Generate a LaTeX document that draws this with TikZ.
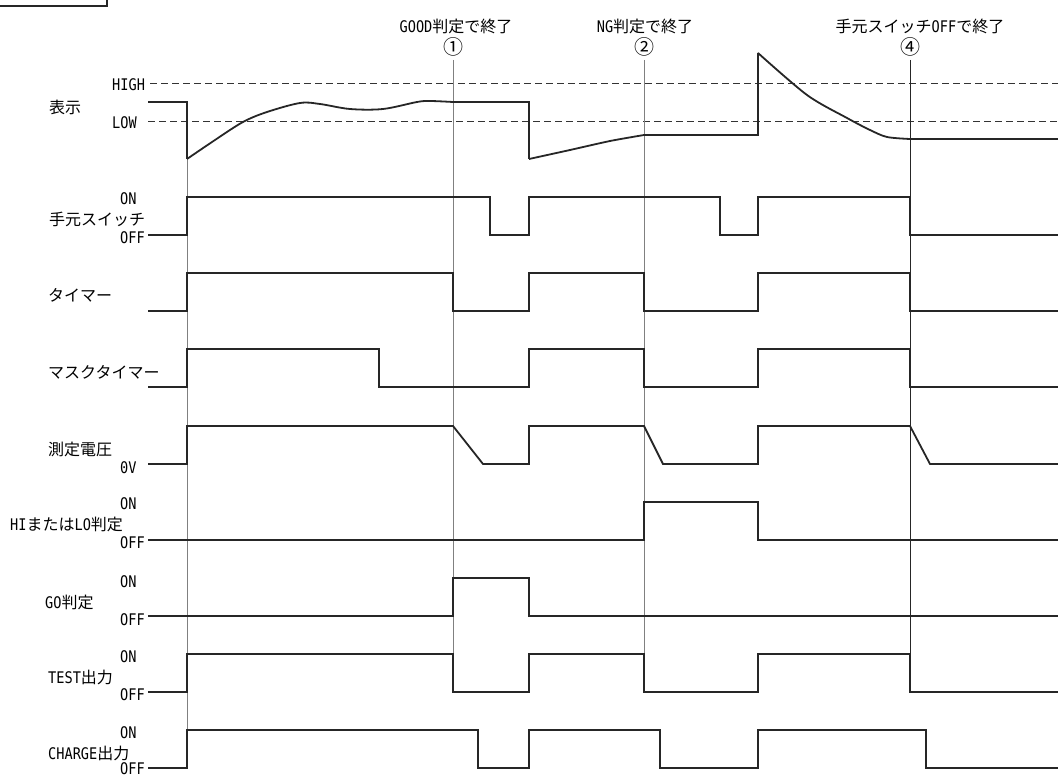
\documentclass[tikz,border=0pt]{standalone}
\usepackage{fontspec}
\usepackage{tikz}
\newfontfamily\jp{Noto Sans CJK JP}
\newfontfamily\lat{DejaVu Sans Mono}[FakeStretch=0.85]

\begin{document}
\begin{tikzpicture}[x=1pt, y=-1pt,
			 senal/.style={line width=1.8pt, black!85},
			 marca/.style={line width=0.8pt, black!50},
			 umbral/.style={line width=0.8pt, black!80, dash pattern=on 7pt off 4pt},
			 rotulo/.style={font=\jp\fontsize{16}{18}\selectfont, inner sep=0pt, anchor=west},
			 nivel/.style={font=\lat\fontsize{16}{18}\selectfont, inner sep=0pt, anchor=west},
			 titulo/.style={font=\jp\fontsize{16}{18}\selectfont, inner sep=0pt},
			 numero/.style={font=\jp\fontsize{20}{22}\selectfont, inner sep=0pt}
  		]
	\useasboundingbox (0,0) rectangle (1058,778);

	%Recuadro de arriba
		\draw[line width=1.5pt, black!85] (-5,-5) rectangle (107,6);

	%Titulos de los instantes
		\node[titulo] (t1) at (456,26) {{\lat GOOD}判定で終了};
		\node[numero] (n1) at (453,47) {①};
		\node[titulo] (t2) at (645,26) {{\lat NG}判定で終了};
		\node[numero] (n2) at (644,47) {②};
		\node[titulo] (t4) at (920,26) {手元スイッチ{\lat OFF}で終了};
		\node[numero] (n4) at (910,47) {④};

	%Nombres de las senales
		\node[rotulo] (s0) at (49,107) {表示};
		\node[rotulo] (s1) at (49,219) {手元スイッチ};
		\node[rotulo] (s2) at (48,295) {タイマー};
		\node[rotulo] (s3) at (48,372) {マスクタイマー};
		\node[rotulo] (s4) at (48,449) {測定電圧};
		\node[rotulo] (s5) at (10,524) {{\lat HI}または{\lat LO}判定};
		\node[rotulo] (s6) at (45,602) {{\lat GO}判定};
		\node[rotulo] (s7) at (48,677) {{\lat TEST}出力};
		\node[rotulo] (s8) at (48,753) {{\lat CHARGE}出力};

	%Niveles
		\node[nivel] (hi) at (112,85) {HIGH};
		\node[nivel] (lo) at (112,123) {LOW};
		\node[nivel] (on1) at (120,199) {ON};
		\node[nivel] (off1) at (120,238) {OFF};
		\node[nivel] (cero) at (120,468) {0V};
		\node[nivel] (on5) at (120,504) {ON};
		\node[nivel] (off5) at (120,543) {OFF};
		\node[nivel] (on6) at (120,582) {ON};
		\node[nivel] (off6) at (120,620) {OFF};
		\node[nivel] (on7) at (120,657) {ON};
		\node[nivel] (off7) at (120,695) {OFF};
		\node[nivel] (on8) at (120,733) {ON};
		\node[nivel] (off8) at (120,769) {OFF};

	%Umbrales HIGH y LOW
		\draw[umbral] (150,83) -- (1058,83);
		\draw[umbral] (148,121) -- (1058,121);

	%Lineas de los instantes
		\draw[marca] (187,102) -- (187,768);
		\draw[marca] (453,60) -- (453,692);
		\draw[marca] (644,60) -- (644,692);
		\draw[marca, black!85] (910,60) -- (910,692);

	%Senal de display
		\draw[senal] (148,102) -- (187,102) -- (187,159)
			plot[smooth, tension=0.55] coordinates {(187,159) (215,140) (243,122) (267,112) (300,103) (320,104) (350,109) (383,109) (417,102) (430,101) (453,102)}
			-- (529,102) -- (529,159)
			plot[smooth, tension=0.4] coordinates {(529,159) (570,150) (610,141) (644,135)}
			-- (758,135) -- (758,53)
			plot[smooth, tension=0.5] coordinates {(758,53) (807,95) (847,118) (870,130) (887,137) (910,139)}
			-- (1058,139);

	%Senales digitales
		\draw[senal] (148,235) -- (187,235) -- (187,197) -- (490,197) -- (490,235) -- (529,235) -- (529,197) -- (720,197) -- (720,235) -- (758,235) -- (758,197) -- (910,197) -- (910,235) -- (1058,235);
		\draw[senal] (148,311) -- (187,311) -- (187,273) -- (453,273) -- (453,311) -- (529,311) -- (529,273) -- (644,273) -- (644,311) -- (758,311) -- (758,273) -- (910,273) -- (910,311) -- (1058,311);
		\draw[senal] (148,387) -- (187,387) -- (187,349) -- (379,349) -- (379,387) -- (529,387) -- (529,349) -- (644,349) -- (644,387) -- (758,387) -- (758,349) -- (910,349) -- (910,387) -- (1058,387);
		\draw[senal] (148,464) -- (187,464) -- (187,426) -- (453,426) -- (483,464) -- (529,464) -- (529,426) -- (644,426) -- (663,464) -- (758,464) -- (758,426) -- (910,426) -- (930,464) -- (1058,464);
		\draw[senal] (148,540) -- (644,540) -- (644,502) -- (758,502) -- (758,540) -- (1058,540);
		\draw[senal] (148,616) -- (453,616) -- (453,578) -- (529,578) -- (529,616) -- (1058,616);
		\draw[senal] (148,692) -- (187,692) -- (187,654) -- (453,654) -- (453,692) -- (529,692) -- (529,654) -- (644,654) -- (644,692) -- (758,692) -- (758,654) -- (910,654) -- (910,692) -- (1058,692);
		\draw[senal] (148,768) -- (187,768) -- (187,730) -- (478,730) -- (478,768) -- (529,768) -- (529,730) -- (660,730) -- (660,768) -- (758,768) -- (758,730) -- (926,730) -- (926,768) -- (1058,768);
\end{tikzpicture}
\end{document}
